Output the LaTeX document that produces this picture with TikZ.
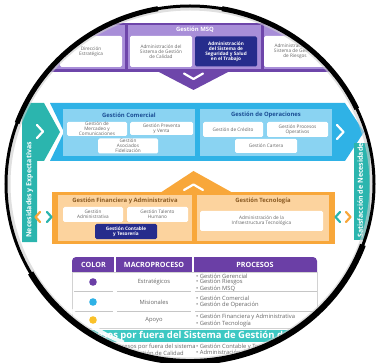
\documentclass[tikz,border=0pt]{standalone}
\usepackage{fontspec}
\setmainfont{Open Sans}
\usetikzlibrary{calc}

\definecolor{msqdark}{HTML}{6E46AA}
\definecolor{msqlight}{HTML}{A88ED8}
\definecolor{navy}{HTML}{262C8C}
\definecolor{misblue}{HTML}{2FB2E6}
\definecolor{misbluel}{HTML}{8AD3F2}
\definecolor{misbluetxt}{HTML}{1B4E94}
\definecolor{apoyo}{HTML}{F8A73A}
\definecolor{apoyol}{HTML}{FCD39E}
\definecolor{apoyotxt}{HTML}{8A5A22}
\definecolor{tealband}{HTML}{2BB5AE}
\definecolor{tealbar}{HTML}{3DC8C3}
\definecolor{tabpurple}{HTML}{6B3FA6}
\definecolor{boxtxt}{HTML}{666666}

\newcommand{\boxfnt}{\fontsize{4.7}{5.1}\selectfont}
\newcommand{\ttlfnt}{\fontsize{5.9}{6.5}\selectfont\bfseries}
\newcommand{\tabfnt}{\fontsize{5.8}{5.6}\selectfont}
\newcommand{\hdfnt}{\fontsize{7.2}{7.5}\selectfont\bfseries}
\newcommand{\bandfnt}{\fontsize{7}{8}\selectfont\bfseries}

\begin{document}
\begin{tikzpicture}[x=1pt, y=-1pt,
  whitebox/.style={fill=white, rounded corners=1.5pt, align=center, inner sep=0pt, font=\boxfnt, text=boxtxt},
  navybox/.style={whitebox, fill=navy, text=white, font=\boxfnt\bfseries},
  paneltitle/.style={font=\ttlfnt, inner sep=0pt},
  chev/.style={white, line width=2.2pt, line cap=round, line join=round},
  tabtext/.style={font=\tabfnt, text=boxtxt, inner sep=0pt, align=left}]
\useasboundingbox (0,0) rectangle (377,363);

\begin{scope}
\clip (190,184) ellipse [x radius=184, y radius=178];

% estrategicos
\fill [msqdark] (0,23) rectangle (377,72);
\fill [msqlight] (0,25) rectangle (125,69);
\fill [msqlight] (128,25) rectangle (261,69);
\fill [msqlight] (264,25) rectangle (377,69);
\node [paneltitle, text=white] (msq) at (195,30) {Gestión MSQ};
\node [whitebox, minimum width=62pt, minimum height=31pt] (direccion) at (91,51.5) {Dirección\\Estratégica};
\node [whitebox, minimum width=62pt, minimum height=31pt] (calidad) at (161,51.5) {Administración del\\Sistema de Gestión\\de Calidad};
\node [navybox, minimum width=62pt, minimum height=30pt] (sst) at (226,51.5) {Administración\\del Sistema de\\Seguridad y Salud\\en el Trabajo};
\node [whitebox, minimum width=62pt, minimum height=31pt] (riesgos) at (295,51.5) {Administración del\\Sistema de Gestión\\de Riesgos};
\fill [msqdark] (157,71) -- (230,71) -- (193.5,90) -- cycle;
\draw [chev] (184,73.5) -- (193.5,79) -- (203,73.5);

% misionales
\fill [tealband] (22,103) -- (44,103) -- (60,132) -- (44,161) -- (37,161) -- (37,242) -- (22,242) -- cycle;
\draw [chev] (37,125) -- (43,131.5) -- (37,138);
\node [rotate=90, anchor=west, font=\bandfnt, text=white, inner sep=0pt] (necesidades) at (29.5,238) {Necesidades y Expectativas};
\fill [misblue] (50,103) -- (345,103) -- (364,132) -- (345,161) -- (50,161) -- (64,132) -- cycle;
\fill [misbluel] (63,109) rectangle (195,156);
\fill [misbluel] (200,109) rectangle (332,156);
\node [paneltitle, text=misbluetxt] (comercial) at (129,115) {Gestión Comercial};
\node [paneltitle, text=misbluetxt] (operaciones) at (266,115) {Gestión de Operaciones};
\node [whitebox, minimum width=60pt, minimum height=14pt] (mercadeo) at (97,129) {Gestión de\\Mercadeo y\\Comunicaciones};
\node [whitebox, minimum width=63pt, minimum height=13pt] (preventa) at (161.5,128.5) {Gestión Preventa\\y Venta};
\node [whitebox, minimum width=60pt, minimum height=15pt] (asociados) at (128,146) {Gestión\\Asociados\\Fidelización};
\node [whitebox, minimum width=60pt, minimum height=15pt] (credito) at (233,129.5) {Gestión de Crédito};
\node [whitebox, minimum width=61pt, minimum height=15pt] (procesos) at (297.5,129.5) {Gestión Procesos\\Operativos};
\node [whitebox, minimum width=62pt, minimum height=14pt] (cartera) at (266,146) {Gestión Cartera};
\draw [chev] (337,125) -- (343.5,132) -- (337,139);
\begin{scope}
\fill [tealband] (354,143) rectangle (370,240);
\clip (354,143) rectangle (370,240);
\node [rotate=90, anchor=west, font=\bandfnt, text=white, inner sep=0pt] (satisfaccion) at (361,238) {Satisfacción de Necesidades y Expectativas};
\end{scope}

% apoyo
\fill [apoyo] (160,193) -- (193.5,171) -- (233,193) -- cycle;
\fill [apoyo] (52,192) rectangle (335,244);
\fill [apoyol] (58,195) rectangle (192,241);
\fill [apoyol] (197,195) rectangle (329,241);
\draw [chev] (184,190) -- (193.5,184.5) -- (203,190);
\node [paneltitle, text=apoyotxt] (financiera) at (125,201) {Gestión Financiera y Administrativa};
\node [paneltitle, text=apoyotxt] (tecnologia) at (263,201) {Gestión Tecnología};
\node [whitebox, minimum width=60pt, minimum height=15pt] (administrativa) at (93,214.5) {Gestión\\Administrativa};
\node [whitebox, minimum width=61pt, minimum height=15pt] (talento) at (157.5,214.5) {Gestión Talento\\Humano};
\node [navybox, minimum width=62pt, minimum height=15pt] (contable) at (126,231.5) {Gestión Contable\\y Tesorería};
\node [whitebox, minimum width=123pt, minimum height=20pt] (infra) at (261.5,221) {Administración de la\\Infraestructura Tecnológica};
\draw [chev, apoyo] (40,212) -- (35.5,217) -- (40,222);
\draw [chev, tealband] (47,212) -- (51.5,217) -- (47,222);
\draw [chev, tealband] (340,212) -- (335.5,217) -- (340,222);
\draw [chev, apoyo] (346,212) -- (350.5,217) -- (346,222);

% tabla
\fill [tabpurple, rounded corners=4pt] (72,257) rectangle (317,278);
\filldraw [draw=gray!35, fill=white] (72,272) rectangle (317,328);
\draw [white, line width=1.2pt] (115,257) -- (115,272);
\draw [white, line width=1.2pt] (193,257) -- (193,272);
\node [font=\hdfnt, text=white] (hcolor) at (93.5,264.5) {COLOR};
\node [font=\hdfnt, text=white] (hmacro) at (154,264.5) {MACROPROCESO};
\node [font=\hdfnt, text=white] (hprocesos) at (255,264.5) {PROCESOS};
\draw [gray!45, line width=0.8pt] (74,291.5) -- (113,291.5) (117,291.5) -- (191,291.5) (195,291.5) -- (317,291.5);
\draw [gray!45, line width=0.8pt] (74,311.5) -- (113,311.5) (117,311.5) -- (191,311.5) (195,311.5) -- (317,311.5);
\fill [tabpurple] (93,282) circle [radius=3.8];
\fill [misblue] (93,302) circle [radius=3.8];
\fill [apoyo!70!yellow] (93,320) circle [radius=3.8];
\node [tabtext] (estrategicos) at (154,282) {Estratégicos};
\node [tabtext] (misionales) at (154,302) {Misionales};
\node [tabtext] (apoyotab) at (154,320) {Apoyo};
\node [tabtext, anchor=north west] (pestrategicos) at (196,273.5) {• Gestión Gerencial\\• Gestión Riesgos\\• Gestión MSQ};
\node [tabtext, anchor=north west] (pmisionales) at (196,296) {• Gestión Comercial\\• Gestión de Operación};
\node [tabtext, anchor=north west] (papoyo) at (196,314) {• Gestión Financiera y Administrativa\\• Gestión Tecnología};
\fill [tealbar] (72,330) rectangle (345,342);
\node [font=\fontsize{9.5}{10}\selectfont\bfseries, text=white, anchor=west, inner sep=0pt] (fuera) at (76,336.5) {Procesos por fuera del Sistema de Gestión de Calidad};
\node [tabtext, align=center] (pfuera) at (154,349.5) {Procesos por fuera del sistema\\de Gestión de Calidad};
\node [tabtext, anchor=north west] (lfuera) at (196,343.5) {• Gestión Contable y Tesorería\\• Administración del Sistema de Seguridad y Salud en el Trabajo};

% brillo
\draw [white, line width=4pt, opacity=0.9] ($(190,184)+(112:177 and 171)$) arc [start angle=112, end angle=145, x radius=177, y radius=171];
\draw [gray!40, line width=3pt, opacity=0.6] (190,184) ellipse [x radius=181, y radius=175];
\end{scope}

% lente
\draw [line width=3pt] (190,184) ellipse [x radius=184, y radius=178];
\draw [line width=6pt] ($(190,184)+(20:184 and 178)$) arc [start angle=20, end angle=150, x radius=184, y radius=178];
\draw [line width=5pt] ($(190,184)+(-160:184 and 178)$) arc [start angle=-160, end angle=-100, x radius=184, y radius=178];
\draw [line width=5pt] ($(190,184)+(-80:184 and 178)$) arc [start angle=-80, end angle=-25, x radius=184, y radius=178];
\end{tikzpicture}
\end{document}
